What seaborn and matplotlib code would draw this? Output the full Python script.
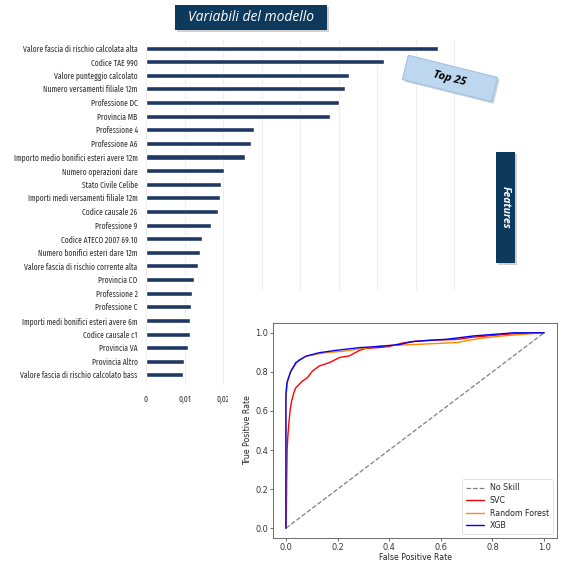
import matplotlib
matplotlib.use("Agg")
import matplotlib.pyplot as plt
import matplotlib.transforms as mtransforms
from matplotlib.patches import Rectangle
import seaborn as sns
import pandas as pd

# ---------------- data ----------------
features = [
    "Valore fascia di rischio calcolata alta", "Codice TAE 990", "Valore punteggio calcolato",
    "Numero versamenti filiale 12m", "Professione DC", "Provincia MB", "Professione 4",
    "Professione A6", "Importo medio bonifici esteri avere 12m", "Numero operazioni dare",
    "Stato Civile Celibe", "Importi medi versamenti filiale 12m", "Codice causale 26",
    "Professione 9", "Codice ATECO 2007 69.10", "Numero bonifici esteri dare 12m",
    "Valore fascia di rischio corrente alta", "Provincia CO", "Professione 2", "Professione C",
    "Importi medi bonifici esteri avere 6m", "Codice causale c1", "Provincia VA",
    "Provincia Altro", "Valore fascia di rischio calcolato bass",
]
importance = [0.0759, 0.0617, 0.0526, 0.0518, 0.0500, 0.0478, 0.0280, 0.0272, 0.0257, 0.0203,
              0.0194, 0.0192, 0.0187, 0.0168, 0.0146, 0.0140, 0.0136, 0.0125, 0.0120, 0.0118,
              0.0114, 0.0114, 0.0109, 0.0098, 0.0096]
bar_ticks = [0, 0.01, 0.02, 0.03, 0.04, 0.05, 0.06, 0.07, 0.08, 0.09]
bar_tick_labels = ["0", "0,01", "0,02", "0,03", "0,04", "0,05", "0,06", "0,07", "0,08", "0,09"]

noskill_fpr = [0, 1]
noskill_tpr = [0, 1]
svc_fpr = [0, 0.002, 0.003, 0.005, 0.008, 0.012, 0.016, 0.022, 0.030, 0.038, 0.051, 0.064, 0.083,
           0.103, 0.129, 0.168, 0.207, 0.246, 0.285, 0.310, 0.375, 0.400, 0.454, 0.506, 0.558,
           0.662, 0.727, 0.817, 0.882, 1.0]
svc_tpr = [0, 0.10, 0.25, 0.41, 0.48, 0.546, 0.60, 0.65, 0.69, 0.718, 0.735, 0.753, 0.77,
           0.804, 0.83, 0.847, 0.873, 0.882, 0.91, 0.92, 0.926, 0.93, 0.948, 0.957, 0.962,
           0.966, 0.978, 0.988, 0.995, 1.0]
rf_fpr = [0, 0, 0.005, 0.018, 0.050, 0.080, 0.150, 0.220, 0.300, 0.363, 0.500, 0.663, 0.754, 0.850, 1.0]
rf_tpr = [0, 0.66, 0.74, 0.80, 0.862, 0.880, 0.898, 0.905, 0.920, 0.933, 0.940, 0.950, 0.972, 0.985, 1.0]
xgb_fpr = [0, 0, 0.005, 0.018, 0.038, 0.077, 0.129, 0.194, 0.285, 0.363, 0.440, 0.490, 0.624, 0.728, 0.884, 1.0]
xgb_tpr = [0, 0.69, 0.75, 0.80, 0.847, 0.880, 0.898, 0.910, 0.924, 0.930, 0.940, 0.955, 0.967, 0.984, 1.0, 1.0]

# ---------------- style ----------------
sns.set_style("white")
plt.rcParams["font.family"] = ["DejaVu Sans"]

W, H = 565, 561
fig = plt.figure(figsize=(W / 100, H / 100), dpi=100)
fig.patch.set_facecolor("white")
PX = mtransforms.Affine2D().scale(1 / W, 1 / H) + fig.transFigure

def fr(x0, ytop, x1, ybot):
    return [x0 / W, 1 - ybot / H, (x1 - x0) / W, (ybot - ytop) / H]

NAVY = "#0d3a5c"
BAR = "#1f3864"
NARROW = ["Fira Sans Extra Condensed", "PT Sans Narrow", "DejaVu Sans"]

# ---------------- bar chart ----------------
ax = fig.add_axes(fr(146, 40, 146 + 0.09 * 3850, 385))
df = pd.DataFrame({"feature": features, "importance": importance})
sns.barplot(data=df, x="importance", y="feature", orient="h", color=BAR, width=0.37,
            saturation=1, ax=ax, zorder=3)
ax.set_xlim(0, 0.09)
ax.set_ylim(24.74, -0.59)
ax.set_xticks(bar_ticks)
ax.set_xticklabels(bar_tick_labels)
ax.grid(axis="x", color="#eeeeee", linewidth=0.8, zorder=0)
ax.set_axisbelow(True)
for s in ax.spines.values():
    s.set_visible(False)
ax.tick_params(axis="y", length=0, colors="#333333", pad=6)
ax.tick_params(axis="x", length=0, colors="#333333", pad=7)
for lbl in ax.get_yticklabels() + ax.get_xticklabels():
    lbl.set_fontfamily(NARROW)
    lbl.set_fontweight("normal")
    lbl.set_fontsize(5.9)
ax.set_xlabel("")
ax.set_ylabel("")

# title box
def box(x0, ytop, x1, ybot, fc, ec="none", angle=0, shadow=True):
    w, h = x1 - x0, ybot - ytop
    if shadow:
        fig.patches.append(Rectangle((x0 + 2, H - ybot - 2), w, h, angle=angle, rotation_point="center",
                                     transform=PX, facecolor="#000000", alpha=0.18, edgecolor="none"))
    fig.patches.append(Rectangle((x0, H - ybot), w, h, angle=angle, rotation_point="center",
                                 transform=PX, facecolor=fc, edgecolor=ec, linewidth=0.8))

box(175, 5, 327, 30, NAVY)
fig.text(251 / W, 1 - 17.5 / H, "Variabili del modello", color="white", fontsize=10,
         style="italic", family=["Open Sans", "DejaVu Sans"], ha="center", va="center")

box(404, 66, 496, 91, "#bdd7ee", ec="#9dc3e6", angle=-14)
fig.text(450 / W, 1 - 78.5 / H, "Top 25", color="black", fontsize=8, weight="bold",
         style="italic", family=["Open Sans", "DejaVu Sans"], ha="center", va="center",
         rotation=-14, rotation_mode="anchor")

box(496, 152, 515, 263, NAVY)
fig.text(505.5 / W, 1 - 207.5 / H, "Features", color="white", fontsize=7.5, weight="bold",
         style="italic", family=["Open Sans", "DejaVu Sans"], ha="center", va="center",
         rotation=-90)

# ---------------- ROC chart ----------------
bg = fig.add_axes(fr(228, 290, 565, 561))
bg.set_facecolor("white")
bg.set_xticks([])
bg.set_yticks([])
for s in bg.spines.values():
    s.set_visible(False)

rax = fig.add_axes(fr(273, 323, 557, 538))
rax.set_facecolor("white")
sns.lineplot(x=noskill_fpr, y=noskill_tpr, ax=rax, linestyle="--", color="gray",
             linewidth=0.9, label="No Skill", sort=False, estimator=None)
sns.lineplot(x=svc_fpr, y=svc_tpr, ax=rax, color="red", linewidth=1.0, label="SVC",
             sort=False, estimator=None)
sns.lineplot(x=rf_fpr, y=rf_tpr, ax=rax, color="darkorange", linewidth=1.0,
             label="Random Forest", sort=False, estimator=None)
sns.lineplot(x=xgb_fpr, y=xgb_tpr, ax=rax, color="blue", linewidth=1.0, label="XGB",
             sort=False, estimator=None)
rax.set_xlim(-0.05, 1.05)
rax.set_ylim(-0.05, 1.05)
rax.set_xticks([0, 0.2, 0.4, 0.6, 0.8, 1.0])
rax.set_yticks([0, 0.2, 0.4, 0.6, 0.8, 1.0])
rax.set_xlabel("False Positive Rate", fontsize=5.7, labelpad=1)
rax.set_ylabel("True Positive Rate", fontsize=5.7, labelpad=2)
rax.tick_params(axis="both", labelsize=5.9, length=2, width=0.5, colors="#333333", pad=1.5,
                bottom=True, left=True)
for s in rax.spines.values():
    s.set_visible(True)
    s.set_color("#555555")
    s.set_linewidth(0.6)
leg = rax.legend(loc="lower right", fontsize=5.7, frameon=True, handlelength=2.2,
                 borderpad=0.5, labelspacing=0.45)
leg.get_frame().set_linewidth(0.5)

fig.savefig("out.png", dpi=100)
